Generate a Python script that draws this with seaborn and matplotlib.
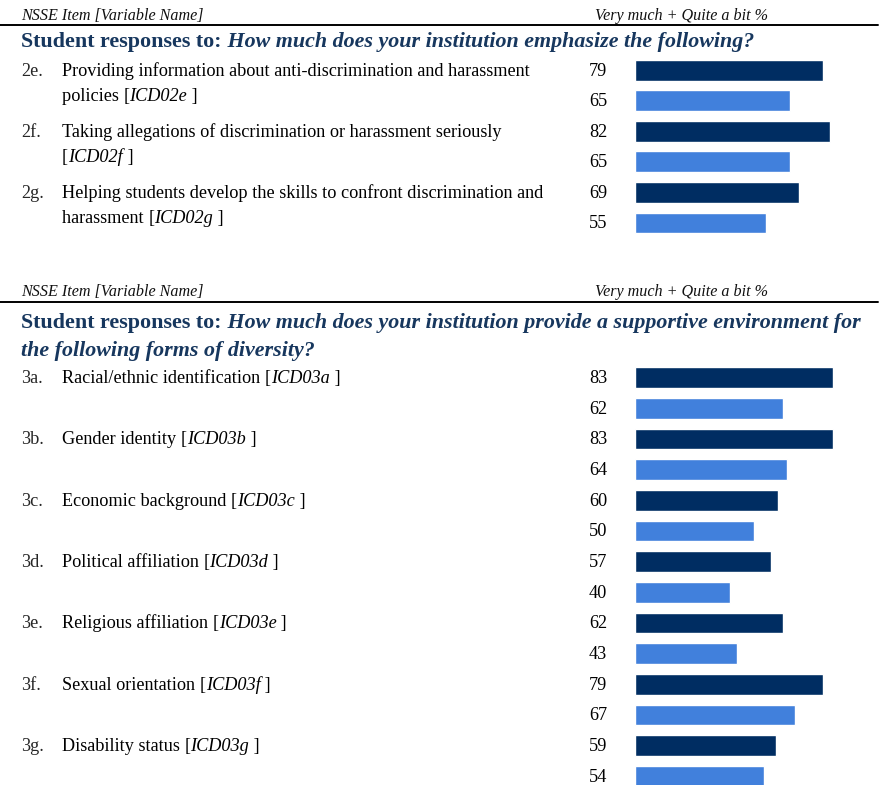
import matplotlib
matplotlib.use("Agg")
import matplotlib.pyplot as plt
from matplotlib.lines import Line2D
from matplotlib.transforms import blended_transform_factory, offset_copy
import seaborn as sns
import pandas as pd

# ---------------- data ----------------
series_names = ["Institution", "Comparison"]

sec_a_codes = ["2e.", "2f.", "2g."]
sec_a_line1 = ["Providing information about anti-discrimination and harassment",
               "Taking allegations of discrimination or harassment seriously",
               "Helping students develop the skills to confront discrimination and"]
sec_a_line2 = ["policies", "", "harassment"]
sec_a_vars = ["ICD02e", "ICD02f", "ICD02g"]
sec_a_inst = [79, 82, 69]
sec_a_comp = [65, 65, 55]

sec_b_codes = ["3a.", "3b.", "3c.", "3d.", "3e.", "3f.", "3g."]
sec_b_line1 = ["Racial/ethnic identification", "Gender identity", "Economic background",
               "Political affiliation", "Religious affiliation", "Sexual orientation",
               "Disability status"]
sec_b_line2 = [None, None, None, None, None, None, None]
sec_b_vars = ["ICD03a", "ICD03b", "ICD03c", "ICD03d", "ICD03e", "ICD03f", "ICD03g"]
sec_b_inst = [83, 83, 60, 57, 62, 79, 59]
sec_b_comp = [62, 64, 50, 40, 43, 67, 54]

header_left = "NSSE Item [Variable Name]"
header_right = "Very much + Quite a bit %"
title_lead = "Student responses to:"
title_a_q = ["How much does your institution emphasize the following?"]
title_b_q = ["How much does your institution provide a supportive environment for",
             "the following forms of diversity?"]

# ---------------- style ----------------
W, H, DPI = 882, 785, 100
DARK = "#002D62"
LIGHT = "#4180DC"
TITLE_C = "#17375E"
sns.set_theme(style="white")
plt.rcParams["font.family"] = ["Liberation Serif", "DejaVu Serif"]

BODY = 13.15
TITLE = 15.8
HEAD = 11.6

fig = plt.figure(figsize=(W / DPI, H / DPI), dpi=DPI)
fig.patch.set_facecolor("white")
renderer = fig.canvas.get_renderer()


def fy(y_px):
    return 1 - y_px / H


def rich(x_px, y, transform, parts, size, color="black"):
    """Draw consecutive text pieces with different styles on one baseline."""
    x_disp = x_px
    for s, style, weight in parts:
        if not s:
            continue
        t = fig.text(x_disp / W, y, s, transform=transform, fontsize=size,
                     fontstyle=style, fontweight=weight, color=color,
                     ha="left", va="baseline")
        bb = t.get_window_extent(renderer)
        x_disp = bb.x1


def header(y_line):
    fig.text(21 / W, fy(y_line - 5.5), header_left, fontsize=HEAD, fontstyle="italic",
             ha="left", va="baseline", color="#111111")
    fig.text(595 / W, fy(y_line - 5.5), header_right, fontsize=HEAD, fontstyle="italic",
             ha="left", va="baseline", color="#111111")
    fig.add_artist(Line2D([0, 878 / W], [fy(y_line), fy(y_line)],
                          transform=fig.transFigure, color="black", lw=1.4))


def title(y_first, lines):
    for k, ln in enumerate(lines):
        y = fy(y_first + k * 28)
        if k == 0:
            rich(21, y, fig.transFigure,
                 [(title_lead, "normal", "bold"), (" " + ln, "italic", "bold")],
                 TITLE, TITLE_C)
        else:
            rich(21, y, fig.transFigure, [(ln, "italic", "bold")], TITLE, TITLE_C)


def section(codes, line1, line2, vars_, inst, comp, c0, pitch):
    n = len(codes)
    top = c0 - pitch / 2
    bot = c0 + (n - 0.5) * pitch
    ax = fig.add_axes([634.5 / W, fy(bot), 239 / W, (bot - top) / H])
    df = pd.DataFrame({
        "item": codes * 2,
        "group": [series_names[0]] * n + [series_names[1]] * n,
        "value": inst + comp,
    })
    sns.barplot(data=df, y="item", x="value", hue="group", orient="h",
                palette=[DARK, LIGHT], saturation=1, width=1.0, gap=0.32,
                dodge=True, legend=False, ax=ax, errorbar=None)
    ax.set_xlim(0, 100)
    ax.set_ylim(n - 0.5, -0.5)
    ax.axis("off")
    btrans = blended_transform_factory(fig.transFigure, ax.transData)
    # value labels
    for cont in ax.containers:
        for bar in cont:
            yc = bar.get_y() + bar.get_height() / 2
            fig.text(607 / W, yc, f"{bar.get_width():.0f}", transform=
                     offset_copy(btrans, fig=fig, y=-5.5, units="dots"),
                     fontsize=BODY, ha="right", va="baseline", color="black")
    # item labels
    for i, bar in enumerate(ax.containers[0]):
        yc = bar.get_y() + bar.get_height() / 2
        t1 = offset_copy(btrans, fig=fig, y=-5.5, units="dots")
        t2 = offset_copy(btrans, fig=fig, y=-5.5 - 25, units="dots")
        fig.text(21 / W, yc, codes[i], transform=t1, fontsize=BODY,
                 ha="left", va="baseline")
        tag = [("[", "normal", "normal"), (vars_[i], "italic", "normal"),
               (" ]", "normal", "normal")]
        if line2[i] is None:
            rich(62, yc, t1, [(line1[i] + " ", "normal", "normal")] + tag, BODY)
        else:
            rich(62, yc, t1, [(line1[i], "normal", "normal")], BODY)
            pre = [(line2[i] + " ", "normal", "normal")] if line2[i] else []
            rich(62, yc, t2, pre + tag, BODY)
    return ax


header(25)
title(46.5, title_a_q)
section(sec_a_codes, sec_a_line1, sec_a_line2, sec_a_vars, sec_a_inst, sec_a_comp,
        85.5, 61.1)

header(302)
title(328, title_b_q)
section(sec_b_codes, sec_b_line1, sec_b_line2, sec_b_vars, sec_b_inst, sec_b_comp,
        393.0, 61.33)

fig.savefig("out.png", dpi=DPI, facecolor="white")
